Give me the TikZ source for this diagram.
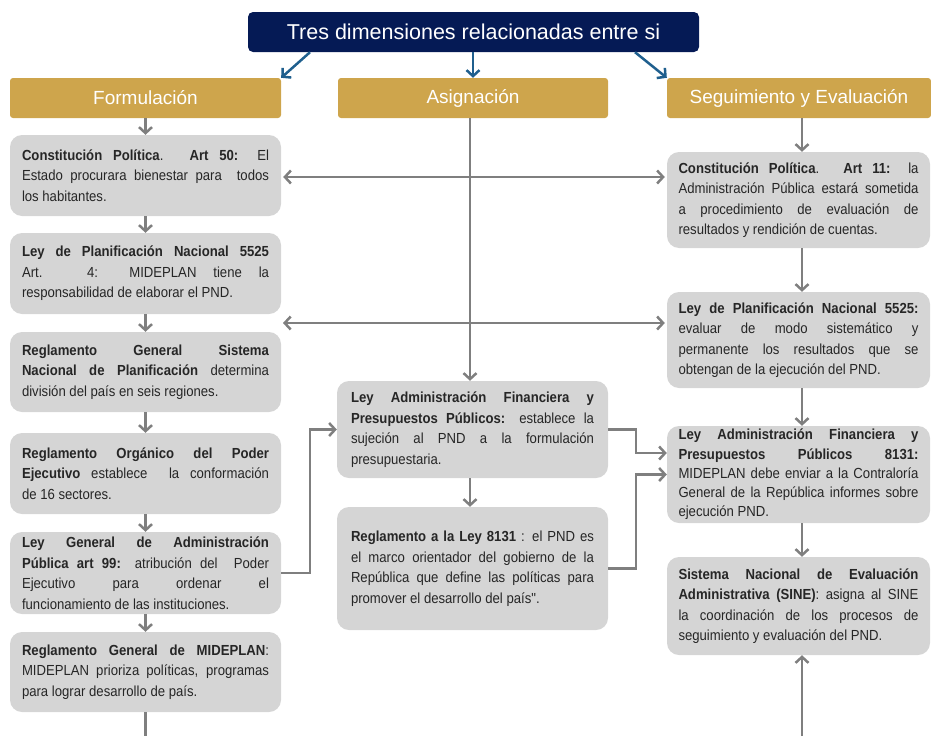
\documentclass[tikz,border=0pt]{standalone}
\usepackage{fontspec}
\setmainfont{Liberation Sans}
\newfontfamily\bodyfont{Liberation Sans}[FakeStretch=0.9]
\usetikzlibrary{arrows.meta}
\definecolor{navy}{HTML}{051A55}
\definecolor{gold}{HTML}{CEA54C}
\definecolor{boxgray}{HTML}{D5D5D5}
\definecolor{arrgray}{HTML}{7F7F7F}
\definecolor{bluearr}{HTML}{1F5F8E}
\definecolor{txt}{HTML}{262626}
\hyphenpenalty=10000
\exhyphenpenalty=10000
\tolerance=10000
\hbadness=10000
\begin{document}
\begin{tikzpicture}[x=1pt,y=-1pt,
  box/.style={fill=boxgray, rounded corners=12pt, align=justify, inner ysep=0pt,
    text=txt, font=\bodyfont\fontsize{14.6}{20.5}\selectfont, anchor=center},
  lbox/.style={box, text width=247pt, inner xsep=12pt},
  mbox/.style={box, text width=243pt, inner xsep=14pt},
  rbox/.style={box, text width=240pt, inner xsep=11.5pt},
  hdr/.style={fill=gold, rounded corners=3pt, text=white, minimum height=40pt,
    font=\fontsize{19}{22}\selectfont, inner sep=0pt},
  garr/.style={draw=arrgray, line width=2.5pt, -{Straight Barb[length=6pt,width=13pt]}},
  gdarr/.style={draw=arrgray, line width=2.5pt, {Straight Barb[length=6pt,width=13pt]}-{Straight Barb[length=6pt,width=13pt]}},
  gline/.style={draw=arrgray, line width=2.5pt},
  barr/.style={draw=bluearr, line width=2.5pt, -{Straight Barb[length=6pt,width=13pt]}}
]
\useasboundingbox (0,0) rectangle (931,736);

% title and headers
\node[fill=navy, rounded corners=5pt, text=white, minimum width=451pt, minimum height=40pt,
  font=\fontsize{21.5}{26}\selectfont, inner sep=0pt] (T) at (473.5,32) {Tres dimensiones relacionadas entre si};
\node[hdr, minimum width=271pt] (F) at (145.5,98) {Formulación};
\node[hdr, minimum width=270pt] (A) at (473,98) {Asignación};
\node[hdr, minimum width=264pt] (S) at (799,98) {Seguimiento y Evaluación};

% left column
\node[lbox, minimum height=81pt] (L1) at (145.5,175.5) {\textbf{Constitución Política}. \textbf{Art 50:} El\linebreak Estado procurara bienestar para\ \ todos\linebreak los habitantes.};
\node[lbox, minimum height=81pt] (L2) at (145.5,273.5) {\textbf{Ley de Planificación Nacional 5525}\linebreak Art. 4: MIDEPLAN tiene la\linebreak responsabilidad de elaborar el PND.};
\node[lbox, minimum height=80pt] (L3) at (145.5,372) {\textbf{Reglamento General Sistema\linebreak Nacional de Planificación} determina\linebreak división del país en seis regiones.};
\node[lbox, minimum height=81pt] (L4) at (145.5,473.5) {\textbf{Reglamento Orgánico del Poder\linebreak Ejecutivo} establece\ \ la conformación\linebreak de 16 sectores.};
\node[lbox, minimum height=82pt] (L5) at (145.5,573) {\textbf{Ley General de Administración\linebreak Pública art 99:} atribución del\ \ Poder\linebreak Ejecutivo para ordenar el\linebreak funcionamiento de las instituciones.};
\node[lbox, minimum height=80pt] (L6) at (145.5,672) {\textbf{Reglamento General de MIDEPLAN}:\linebreak MIDEPLAN prioriza políticas, programas\linebreak para lograr desarrollo de país.};

% middle column
\node[mbox, minimum height=97pt] (M1) at (472.5,429.5) {\textbf{Ley Administración Financiera y\linebreak Presupuestos Públicos:} establece la\linebreak sujeción al PND a la formulación\linebreak presupuestaria.};
\node[mbox, minimum height=123pt] (M2) at (472.5,568.5) {\textbf{Reglamento a la Ley 8131} : el PND es\linebreak el marco orientador del gobierno de la\linebreak República que define las políticas para\linebreak promover el desarrollo del país".};

% right column
\node[rbox, minimum height=96pt] (R1) at (798.5,200) {\textbf{Constitución Política}. \textbf{Art 11:} la\linebreak Administración Pública estará sometida\linebreak a procedimiento de evaluación de\linebreak resultados y rendición de cuentas.};
\node[rbox, minimum height=96pt] (R2) at (798.5,340) {\textbf{Ley de Planificación Nacional 5525:}\linebreak evaluar de modo sistemático y\linebreak permanente los resultados que se\linebreak obtengan de la ejecución del PND.};
\node[rbox, minimum height=97pt, font=\bodyfont\fontsize{14.6}{19.2}\selectfont] (R3) at (798.5,474.5) {\textbf{Ley Administración Financiera y\linebreak Presupuestos Públicos 8131:}\linebreak MIDEPLAN debe enviar a la Contraloría\linebreak General de la República informes sobre\linebreak ejecución PND.};
\node[rbox, minimum height=98pt] (R4) at (798.5,606) {\textbf{Sistema Nacional de Evaluación\linebreak Administrativa (SINE)}: asigna al SINE\linebreak la coordinación de los procesos de\linebreak seguimiento y evaluación del PND.};

% title arrows
\draw[barr] (T.south -| 310,0) -- (F.north east);
\draw[barr] (T.south -| A.north) -- (A.north);
\draw[barr] (T.south -| 635,0) -- (S.north west);

% left column arrows
\draw[garr] (F.south) -- (L1.north);
\draw[garr] (L1.south) -- (L2.north);
\draw[garr] (L2.south) -- (L3.north);
\draw[garr] (L3.south) -- (L4.north);
\draw[garr] (L4.south) -- (L5.north);
\draw[garr] (L5.south) -- (L6.north);
\coordinate (lb) at (L6.south |- 0,736);
\draw[gline] (L6.south) -- (lb);

% middle column arrows
\draw[garr] (A.south -| 470,0) -- (M1.north -| 470,0);
\draw[garr] (M1.south -| 470,0) -- (M2.north -| 470,0);
\draw[garr] (L5.east) -- ++(29,0) |- (M1.west);
\draw[garr] (M1.east) -- ++(28,0) |- ([yshift=21.5pt]R3.west);
\draw[garr] (M2.east) -- ++(28,0) |- (R3.west);

% right column arrows
\draw[garr] (S.south -| 802,0) -- (R1.north -| 802,0);
\draw[garr] (R1.south -| 802,0) -- (R2.north -| 802,0);
\draw[garr] (R2.south -| 802,0) -- (R3.north -| 802,0);
\draw[garr] (R3.south -| 802,0) -- (R4.north -| 802,0);
\coordinate (rb) at (802,736);
\draw[garr] (rb) -- (R4.south -| 802,0);

% horizontal double arrows
\draw[gdarr] ([xshift=2pt]L1.east |- 0,177) -- ([xshift=-2pt]R1.west |- 0,177);
\coordinate (h2) at (283,323);
\draw[gdarr] (h2) -- ([xshift=-2pt]R2.west |- h2);
\end{tikzpicture}
\end{document}
